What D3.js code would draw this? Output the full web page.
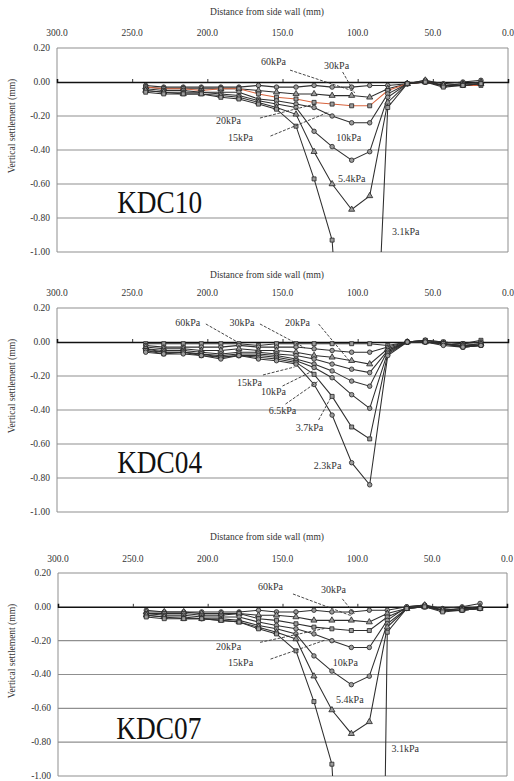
<!DOCTYPE html>
<html>
<head>
<meta charset="utf-8">
<script src="https://cdn.jsdelivr.net/npm/d3@7"></script>
<style>
body { margin: 0; background: #fff; }
svg { display: block; }
</style>
</head>
<body>
<div id="chart"></div>
<script>
// Distance of each gauge from the side wall (mm)
var distance = [241, 229, 216, 204, 191, 179, 166, 154, 141, 129, 117, 104, 92, 80, 67, 55, 43, 30, 18];
var xTicks = [300, 250, 200, 150, 100, 50, 0];
var yTicks = [0.2, 0, -0.2, -0.4, -0.6, -0.8, -1.0];

// KDC10
var kdc10Loads = ["60kPa", "30kPa", "20kPa", "15kPa", "10kPa", "5.4kPa", "3.1kPa"];
var kdc10Values = [
  [-0.02,-0.03,-0.03,-0.03,-0.03,-0.03,-0.02,-0.03,-0.03,-0.02,-0.03,-0.03,-0.02,-0.02,-0.01,0.01,-0.01,0.00,0.01],
  [-0.03,-0.04,-0.04,-0.04,-0.04,-0.04,-0.05,-0.06,-0.07,-0.07,-0.08,-0.08,-0.09,-0.04,-0.01,0.00,-0.02,-0.01,0.00],
  [-0.03,-0.04,-0.04,-0.05,-0.04,-0.04,-0.07,-0.09,-0.10,-0.12,-0.13,-0.14,-0.14,-0.05,-0.01,0.00,-0.02,-0.02,-0.02],
  [-0.04,-0.05,-0.05,-0.06,-0.06,-0.06,-0.10,-0.11,-0.13,-0.15,-0.20,-0.24,-0.24,-0.07,-0.01,0.00,-0.02,-0.01,-0.01],
  [-0.05,-0.06,-0.06,-0.06,-0.07,-0.08,-0.11,-0.13,-0.15,-0.29,-0.38,-0.46,-0.41,-0.09,-0.01,0.00,-0.02,-0.02,-0.01],
  [-0.05,-0.06,-0.07,-0.07,-0.08,-0.09,-0.12,-0.15,-0.19,-0.41,-0.60,-0.75,-0.67,-0.12,-0.01,0.01,-0.02,-0.02,-0.01],
  [-0.06,-0.07,-0.07,-0.07,-0.09,-0.10,-0.13,-0.16,-0.26,-0.57,-0.93,-2.60,-2.50,-0.15,-0.01,0.00,-0.03,-0.02,-0.01]
];

// KDC04
var kdc04Loads = ["60kPa", "30kPa", "20kPa", "15kPa", "10kPa", "6.5kPa", "3.7kPa", "2.3kPa"];
var kdc04Values = [
  [-0.01,-0.01,-0.01,-0.01,-0.01,-0.01,-0.02,-0.01,-0.01,-0.01,-0.01,-0.01,-0.01,-0.02,0.00,0.01,0.00,-0.01,0.01],
  [-0.02,-0.03,-0.03,-0.03,-0.03,-0.02,-0.03,-0.03,-0.03,-0.04,-0.05,-0.06,-0.06,-0.03,0.00,0.01,0.00,-0.01,0.00],
  [-0.03,-0.04,-0.04,-0.05,-0.05,-0.04,-0.05,-0.05,-0.06,-0.08,-0.09,-0.11,-0.13,-0.04,0.00,0.00,-0.01,-0.02,-0.01],
  [-0.04,-0.05,-0.05,-0.06,-0.07,-0.06,-0.06,-0.07,-0.08,-0.10,-0.13,-0.16,-0.18,-0.05,0.00,0.00,-0.01,-0.02,-0.01],
  [-0.04,-0.06,-0.06,-0.07,-0.08,-0.07,-0.07,-0.08,-0.10,-0.13,-0.17,-0.23,-0.26,-0.05,0.00,0.00,-0.01,-0.03,-0.02],
  [-0.05,-0.06,-0.06,-0.07,-0.09,-0.08,-0.08,-0.09,-0.11,-0.15,-0.21,-0.31,-0.39,-0.06,0.00,0.01,-0.01,-0.02,-0.02],
  [-0.05,-0.07,-0.06,-0.08,-0.09,-0.08,-0.09,-0.10,-0.12,-0.19,-0.32,-0.50,-0.57,-0.07,0.00,0.00,-0.01,-0.03,-0.02],
  [-0.06,-0.07,-0.07,-0.08,-0.10,-0.08,-0.10,-0.11,-0.13,-0.25,-0.43,-0.71,-0.84,-0.08,0.00,0.00,-0.02,-0.03,-0.02]
];

// KDC07
var kdc07Loads = ["60kPa", "30kPa", "20kPa", "15kPa", "10kPa", "5.4kPa", "3.1kPa"];
var kdc07Values = [
  [-0.02,-0.03,-0.03,-0.03,-0.03,-0.03,-0.02,-0.03,-0.03,-0.02,-0.03,-0.03,-0.02,-0.02,0.00,0.01,-0.01,0.00,0.02],
  [-0.03,-0.03,-0.03,-0.04,-0.04,-0.04,-0.05,-0.05,-0.06,-0.08,-0.08,-0.08,-0.09,-0.04,-0.01,0.00,-0.02,-0.01,0.00],
  [-0.04,-0.04,-0.04,-0.05,-0.05,-0.04,-0.07,-0.08,-0.10,-0.12,-0.13,-0.14,-0.14,-0.06,-0.01,0.00,-0.02,-0.01,-0.01],
  [-0.04,-0.05,-0.05,-0.06,-0.06,-0.06,-0.09,-0.11,-0.13,-0.16,-0.20,-0.24,-0.24,-0.08,0.00,0.01,-0.02,-0.02,-0.01],
  [-0.05,-0.06,-0.06,-0.07,-0.07,-0.08,-0.11,-0.13,-0.16,-0.29,-0.38,-0.46,-0.41,-0.10,-0.01,0.00,-0.02,-0.02,-0.01],
  [-0.05,-0.06,-0.07,-0.07,-0.08,-0.09,-0.12,-0.15,-0.19,-0.41,-0.61,-0.75,-0.68,-0.12,-0.01,0.01,-0.02,-0.02,-0.01],
  [-0.06,-0.07,-0.07,-0.07,-0.08,-0.09,-0.13,-0.16,-0.26,-0.56,-0.93,-3.00,-8.00,-0.15,-0.01,0.00,-0.03,-0.02,-0.01]
];

// load labels and dashed leaders, placed in data units (mm, settlement)
var kdc10Notes = [
  {t:"60kPa", at:[156, 0.118], from:[145, 0.07], to:[103, -0.053]},
  {t:"30kPa", at:[114, 0.10], from:[110, 0.059], to:[102, -0.065]},
  {t:"20kPa", at:[186, -0.224], from:[165, -0.212], to:[128, -0.129]},
  {t:"15kPa", at:[178, -0.324], from:[158, -0.318], to:[119, -0.176]},
  {t:"10kPa", at:[106, -0.324]},
  {t:"5.4kPa", at:[104, -0.565]},
  {t:"3.1kPa", at:[68, -0.88]}
];
var kdc04Notes = [
  {t:"60kPa", at:[213, 0.112], from:[201, 0.106], to:[180, 0.0]},
  {t:"30kPa", at:[177, 0.112], from:[165, 0.106], to:[135, -0.035]},
  {t:"20kPa", at:[140, 0.112], from:[126, 0.106], to:[106, -0.106]},
  {t:"15kPa", at:[172, -0.241], from:[163, -0.194], to:[142, -0.147]},
  {t:"10kPa", at:[156, -0.294], from:[150, -0.259], to:[130, -0.171]},
  {t:"6.5kPa", at:[150, -0.40], from:[148, -0.365], to:[126, -0.229]},
  {t:"3.7kPa", at:[132, -0.50], from:[126, -0.459], to:[118, -0.329]},
  {t:"2.3kPa", at:[120, -0.729]}
];
var kdc07Notes = [
  {t:"60kPa", at:[158, 0.123], from:[143, 0.076], to:[104, -0.053]},
  {t:"30kPa", at:[116, 0.105], from:[110, 0.047], to:[102, -0.041]},
  {t:"20kPa", at:[186, -0.233], from:[165, -0.21], to:[122, -0.128]},
  {t:"15kPa", at:[178, -0.327], from:[158, -0.309], to:[122, -0.198]},
  {t:"10kPa", at:[108, -0.327]},
  {t:"5.4kPa", at:[105, -0.548]},
  {t:"3.1kPa", at:[68, -0.84]}
];

var shapes10 = [d3.symbolCircle, d3.symbolTriangle, d3.symbolSquare, d3.symbolCircle, d3.symbolCircle, d3.symbolTriangle, d3.symbolSquare];
var shapes04 = [d3.symbolSquare, d3.symbolCircle, d3.symbolTriangle, d3.symbolCircle, d3.symbolCircle, d3.symbolCircle, d3.symbolSquare, d3.symbolCircle];

var panels = [
  {name:"KDC10", loads:kdc10Loads, values:kdc10Values, notes:kdc10Notes, shapes:shapes10, red:2,
   titleY:12, tickY:33, top:48, bottom:252, x0:57, x1:508, nameAt:[260, -0.77]},
  {name:"KDC04", loads:kdc04Loads, values:kdc04Values, notes:kdc04Notes, shapes:shapes04, red:-1,
   titleY:275, tickY:293, top:308, bottom:512, x0:57, x1:508, nameAt:[260, -0.77]},
  {name:"KDC07", loads:kdc07Loads, values:kdc07Values, notes:kdc07Notes, shapes:shapes10, red:-1,
   titleY:537, tickY:559, top:573, bottom:776, x0:58, x1:507, nameAt:[261, -0.78]}
];

var serif = "'Liberation Serif', 'Times New Roman', serif";

var svg = d3.select("#chart").append("svg")
  .attr("width", 514)
  .attr("height", 781);

// every text gets the serif face set directly
function label(sel, size) {
  return sel.append("text")
    .style("font-family", serif)
    .style("font-size", size + "px")
    .style("fill", "#333");
}

panels.forEach(function(p, pi) {
  var x = d3.scaleLinear().domain([300, 0]).range([p.x0, p.x1]);
  var y = d3.scaleLinear().domain([-1, 0.2]).range([p.bottom, p.top]);
  var g = svg.append("g");

  // axis title and top tick labels
  label(g, 9.5)
    .attr("x", 267).attr("y", p.titleY).attr("dy", "0.35em")
    .attr("text-anchor", "middle")
    .text("Distance from side wall (mm)");

  xTicks.forEach(function(t) {
    label(g, 9.5)
      .attr("x", x(t)).attr("y", p.tickY).attr("dy", "0.35em")
      .attr("text-anchor", "middle")
      .text(t.toFixed(1));
  });

  // horizontal gridlines
  g.selectAll(".grid").data(yTicks.filter(d => d !== 0)).enter().append("line")
    .attr("x1", p.x0).attr("x2", p.x1)
    .attr("y1", d => y(d)).attr("y2", d => y(d))
    .attr("stroke", "#8f8f8f").attr("stroke-width", 1.1);

  // plot border (left / right)
  g.append("line").attr("x1", p.x0).attr("x2", p.x0).attr("y1", y(0.2)).attr("y2", y(-1))
    .attr("stroke", "#8f8f8f");
  g.append("line").attr("x1", p.x1).attr("x2", p.x1).attr("y1", y(0.2)).attr("y2", y(-1))
    .attr("stroke", "#8f8f8f");

  yTicks.forEach(function(t) {
    label(g, 9.5)
      .attr("x", p.x0 - 7).attr("y", y(t)).attr("dy", "0.3em")
      .attr("text-anchor", "end")
      .text(t.toFixed(2));
  });

  label(g, 9.5)
    .attr("transform", "translate(12," + (p.top + 78) + ") rotate(-90)")
    .attr("text-anchor", "middle").attr("dy", "0.35em")
    .text("Vertical settlement (mm)");

  // zero line with small ticks
  var xAxis = d3.axisTop(x).tickValues([250, 200, 150, 100, 50]).tickSize(3).tickFormat("");
  g.append("g").attr("transform", "translate(0," + y(0) + ")").call(xAxis)
    .call(a => a.select(".domain").attr("stroke", "#111").attr("stroke-width", 1.5))
    .call(a => a.selectAll(".tick line").attr("stroke", "#333"));

  // panel name
  label(g, 31)
    .attr("x", x(p.nameAt[0])).attr("y", y(p.nameAt[1]))
    .attr("textLength", 85).attr("lengthAdjust", "spacingAndGlyphs")
    .style("fill", "#111")
    .text(p.name);

  // series
  svg.append("clipPath").attr("id", "clip" + pi).append("rect")
    .attr("x", p.x0).attr("y", p.top).attr("width", p.x1 - p.x0).attr("height", p.bottom - p.top);

  var plot = g.append("g").attr("clip-path", "url(#clip" + pi + ")");
  var line = d3.line().x((d, i) => x(distance[i])).y(d => y(d));

  plot.selectAll(".series").data(p.values).enter().append("path")
    .attr("d", line)
    .attr("fill", "none")
    .attr("stroke", (d, i) => i === p.red ? "#d8643e" : "#2e2e2e")
    .attr("stroke-width", 1.05);

  p.values.forEach(function(vals, si) {
    plot.selectAll(".m" + si).data(vals).enter().append("path")
      .attr("transform", (d, i) => "translate(" + x(distance[i]) + "," + y(d) + ")")
      .attr("d", d3.symbol().type(p.shapes[si]).size(16))
      .attr("fill", "#9c9c9c")
      .attr("stroke", "#222")
      .attr("stroke-width", 0.8);
  });

  // load labels and leaders
  g.selectAll(".leader").data(p.notes.filter(n => n.from)).enter().append("line")
    .attr("x1", n => x(n.from[0])).attr("y1", n => y(n.from[1]))
    .attr("x2", n => x(n.to[0])).attr("y2", n => y(n.to[1]))
    .attr("stroke", "#333").attr("stroke-width", 0.9).attr("stroke-dasharray", "3,1.5");

  p.notes.forEach(function(n) {
    label(g, 10)
      .attr("x", x(n.at[0])).attr("y", y(n.at[1])).attr("dy", "0.35em")
      .attr("text-anchor", "middle")
      .text(n.t);
  });
});
</script>
</body>
</html>
